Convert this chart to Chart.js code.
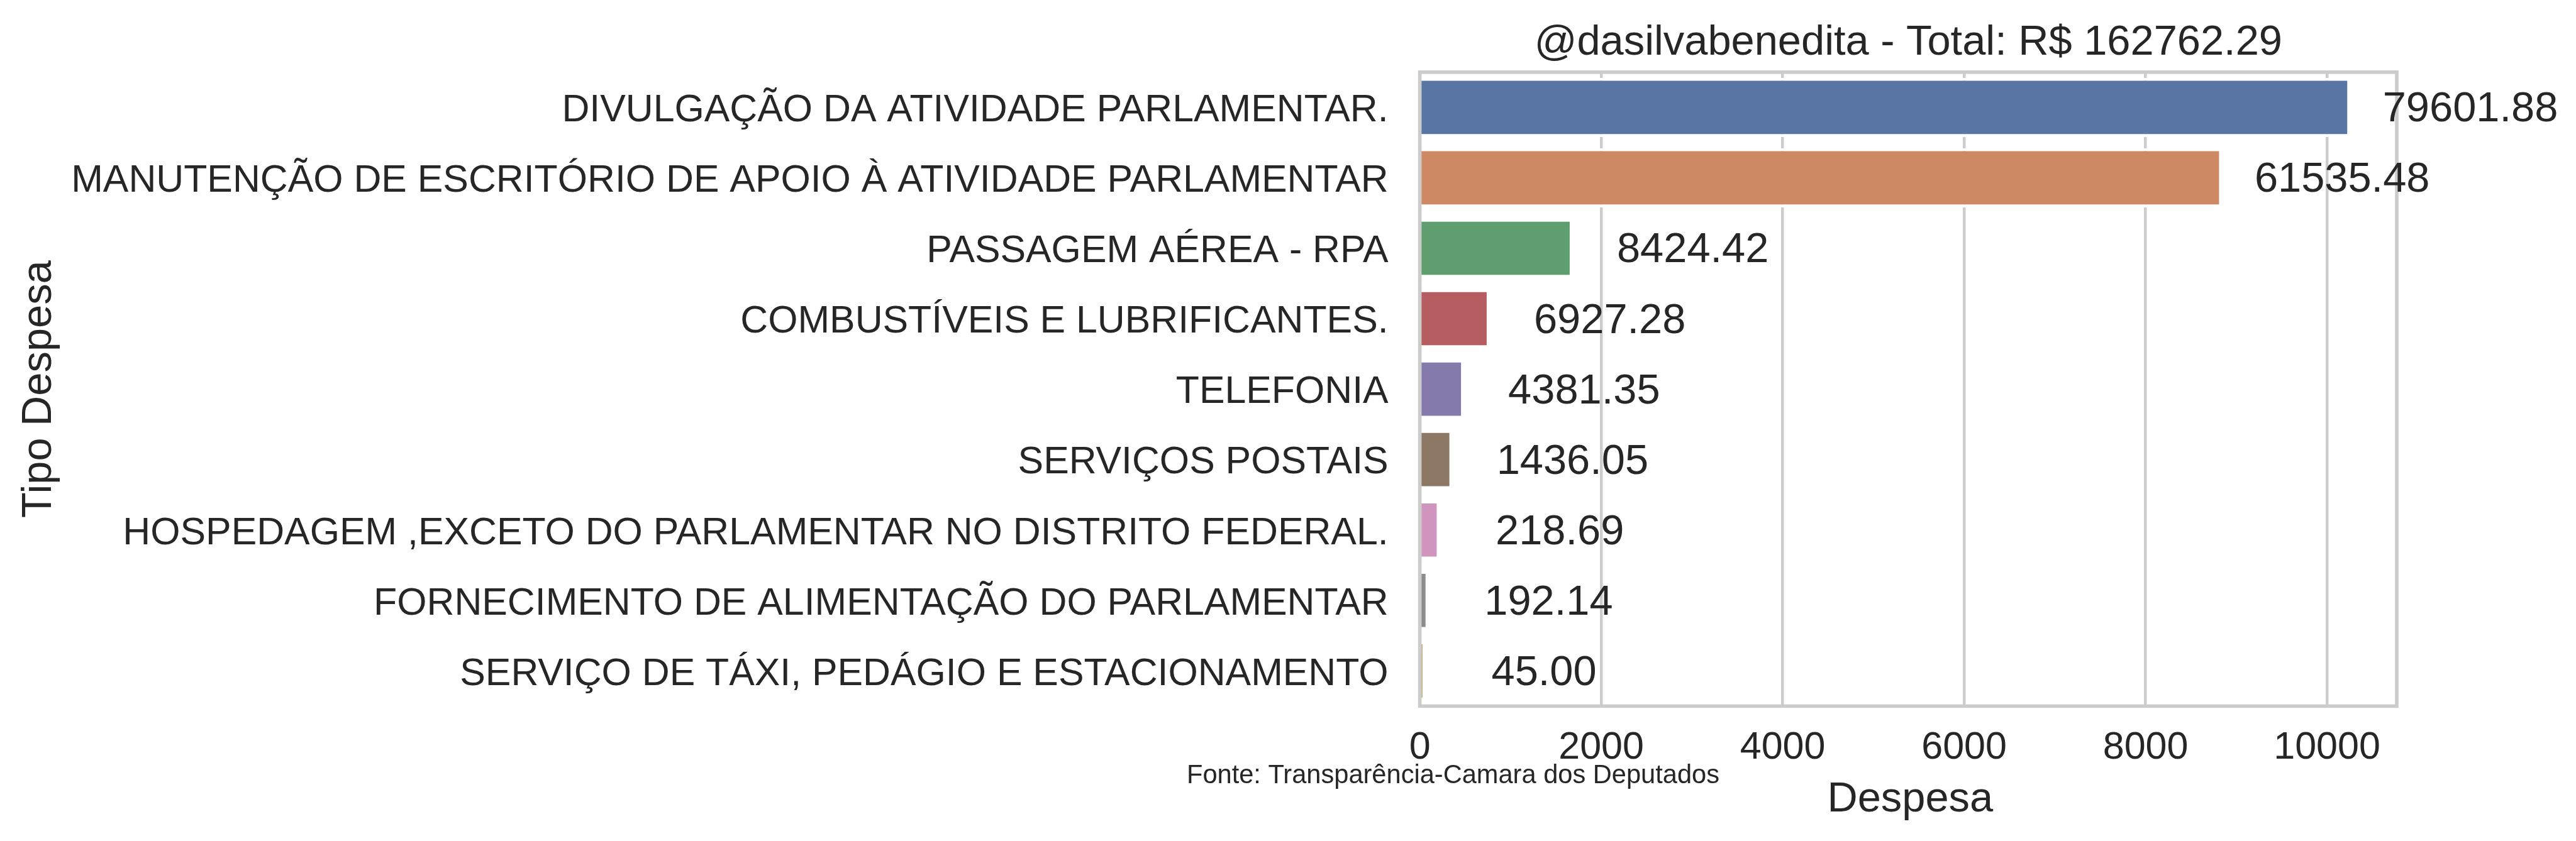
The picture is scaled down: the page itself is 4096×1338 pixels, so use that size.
<!DOCTYPE html>
<html>
<head>
<meta charset="utf-8">
<script src="https://cdn.jsdelivr.net/npm/chart.js@4.4.0/dist/chart.umd.min.js"></script>
<style>
  html, body { margin: 0; padding: 0; background: #ffffff; }
  #wrap { width: 4096px; height: 1338px; }
</style>
</head>
<body>
<div id="wrap"><canvas id="c" width="4096" height="1338"></canvas></div>
<script>
const categories = [
  'DIVULGAÇÃO DA ATIVIDADE PARLAMENTAR.',
  'MANUTENÇÃO DE ESCRITÓRIO DE APOIO À ATIVIDADE PARLAMENTAR',
  'PASSAGEM AÉREA - RPA',
  'COMBUSTÍVEIS E LUBRIFICANTES.',
  'TELEFONIA',
  'SERVIÇOS POSTAIS',
  'HOSPEDAGEM ,EXCETO DO PARLAMENTAR NO DISTRITO FEDERAL.',
  'FORNECIMENTO DE ALIMENTAÇÃO DO PARLAMENTAR',
  'SERVIÇO DE TÁXI, PEDÁGIO E ESTACIONAMENTO'
];
// bar lengths
const barValues = [10256, 8843, 1685, 770, 487, 359, 219, 96, 45];
// totals printed next to each bar
const totalLabels = ['79601.88', '61535.48', '8424.42', '6927.28', '4381.35', '1436.05', '218.69', '192.14', '45.00'];
const xTicks = [0, 2000, 4000, 6000, 8000, 10000];
const xMax = 10769;
const barColors = ['#5975a4', '#cc8963', '#5f9e6e', '#b55d60', '#857aab', '#8d7866', '#d095bf', '#8c8c8c', '#c1b37f'];
const titleText = '@dasilvabenedita - Total: R$ 162762.29';
const xTitle = 'Despesa';
const yTitle = 'Tipo Despesa';
const sourceText = 'Fonte: Transparência-Camara dos Deputados';

const FONT = '"Liberation Sans", Arial, sans-serif';
const TXT = '#262626';

const decor = {
  id: 'decor',
  afterDatasetsDraw(chart) {
    const ctx = chart.ctx;
    const a = chart.chartArea;
    const xs = chart.scales.x, ys = chart.scales.y;
    ctx.save();
    // spines
    ctx.strokeStyle = '#cccccc';
    ctx.lineWidth = 5.6;
    ctx.strokeRect(a.left, a.top, a.right - a.left, a.bottom - a.top);
    // value labels
    ctx.fillStyle = TXT;
    ctx.font = '66.8px ' + FONT;
    ctx.textAlign = 'center';
    ctx.textBaseline = 'alphabetic';
    barValues.forEach((v, i) => {
      const x = xs.getPixelForValue(v) + 191;
      const y = ys.getPixelForValue(i) + 22.5;
      ctx.fillText(totalLabels[i], x, y);
    });
    // title
    const cx = (a.left + a.right) / 2;
    ctx.fillText(titleText, cx, 86.8);
    // x title
    ctx.fillText(xTitle, cx + 3, 1290.5);
    // y title
    ctx.save();
    ctx.translate(80.7, (a.top + a.bottom) / 2);
    ctx.rotate(-Math.PI / 2);
    ctx.fillText(yTitle, 0, 0);
    ctx.restore();
    // source
    ctx.font = '41.6px ' + FONT;
    ctx.textAlign = 'left';
    ctx.fillText(sourceText, 1887, 1245.5);
    ctx.restore();
  }
};

new Chart(document.getElementById('c'), {
  type: 'bar',
  data: {
    labels: categories,
    datasets: [{
      data: barValues,
      backgroundColor: barColors,
      borderColor: '#ffffff',
      borderWidth: 4.76,
      borderSkipped: 'start',
      barPercentage: 0.84,
      categoryPercentage: 1.0
    }]
  },
  options: {
    indexAxis: 'y',
    responsive: false,
    devicePixelRatio: 1,
    animation: false,
    layout: { padding: { left: 0, top: 114.8, right: 285, bottom: 0 } },
    plugins: { legend: { display: false }, tooltip: { enabled: false }, title: { display: false } },
    scales: {
      x: {
        type: 'linear',
        position: 'bottom',
        min: 0,
        max: xMax,
        afterBuildTicks(scale) { scale.ticks = xTicks.map(v => ({ value: v })); },
        afterFit(scale) { scale.height = 1338 - 1123.4; },
        ticks: {
          includeBounds: false,
          color: TXT,
          font: { family: FONT, size: 61 },
          padding: 30,
          maxRotation: 0,
          callback: (v) => String(v)
        },
        grid: { color: '#cccccc', lineWidth: 4.47, drawTicks: false },
        border: { display: false }
      },
      y: {
        type: 'category',
        position: 'left',
        afterFit(scale) { scale.width = 2257.6; },
        ticks: {
          color: TXT,
          font: { family: FONT, size: 60.8 },
          padding: 50,
          labelOffset: 5.5,
          autoSkip: false
        },
        grid: { display: false, drawTicks: false },
        border: { display: false }
      }
    }
  },
  plugins: [decor]
});
</script>
</body>
</html>
